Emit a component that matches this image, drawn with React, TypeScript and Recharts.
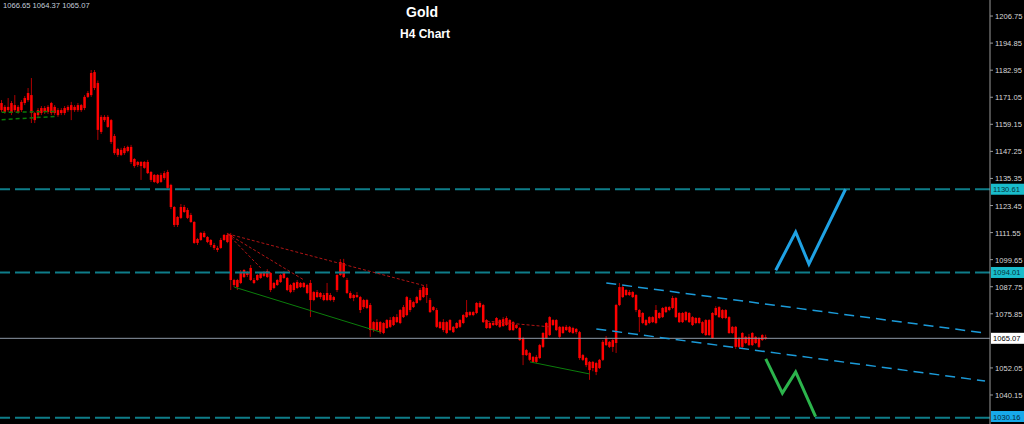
import React from "react";
import { ComposedChart, Bar, Line, XAxis, YAxis, ReferenceLine } from "recharts";

// H4 bars: open, high, low, close
const candles: number[][] = [
  [1168.5, 1169.8, 1164.6, 1165.4], [1166.8, 1167.6, 1163.8, 1164.6], [1165.4, 1170.7, 1164.6, 1166.8],
  [1164.1, 1169.4, 1163.2, 1168.5], [1167.6, 1172.0, 1164.6, 1165.4], [1166.8, 1167.6, 1163.8, 1164.6],
  [1165.4, 1169.8, 1164.6, 1169.0], [1168.5, 1171.6, 1167.6, 1170.7], [1169.8, 1175.1, 1169.0, 1172.9],
  [1172.0, 1179.5, 1159.7, 1164.1], [1164.1, 1164.6, 1159.7, 1161.0], [1163.2, 1166.3, 1162.4, 1165.4],
  [1164.1, 1167.2, 1163.2, 1166.3], [1166.3, 1167.2, 1163.7, 1164.6], [1164.6, 1167.6, 1163.7, 1166.8],
  [1164.1, 1169.0, 1163.2, 1168.5], [1166.8, 1167.6, 1163.2, 1164.1], [1165.4, 1166.3, 1162.4, 1163.2],
  [1164.1, 1166.3, 1163.2, 1165.4], [1164.1, 1167.2, 1163.2, 1166.3], [1165.4, 1167.6, 1164.6, 1166.8],
  [1167.6, 1169.0, 1161.0, 1165.4], [1165.4, 1167.6, 1164.6, 1166.8], [1165.4, 1168.5, 1164.6, 1167.6],
  [1167.6, 1168.1, 1164.6, 1165.4], [1166.3, 1172.0, 1165.4, 1171.2], [1171.2, 1173.8, 1170.7, 1172.9],
  [1172.0, 1183.0, 1171.2, 1181.7], [1182.1, 1183.0, 1174.2, 1175.1], [1177.3, 1178.4, 1152.3, 1156.7],
  // 30
  [1155.8, 1163.2, 1154.9, 1162.4], [1162.4, 1163.2, 1160.2, 1161.0], [1162.4, 1163.2, 1157.6, 1158.0],
  [1161.0, 1161.5, 1150.5, 1151.4], [1154.0, 1154.9, 1145.7, 1146.5], [1145.7, 1148.8, 1144.8, 1148.3],
  [1147.9, 1148.8, 1145.2, 1145.7], [1146.5, 1149.6, 1145.7, 1148.7], [1149.2, 1149.8, 1146.8, 1147.4],
  [1149.2, 1150.1, 1141.7, 1142.6], [1143.9, 1144.3, 1140.0, 1140.8], [1141.3, 1143.0, 1140.4, 1142.6],
  [1142.6, 1143.0, 1134.7, 1140.8], [1140.0, 1143.0, 1139.6, 1142.6], [1142.6, 1143.5, 1137.3, 1137.7],
  [1138.2, 1138.6, 1133.8, 1134.7], [1136.9, 1137.3, 1133.4, 1133.8], [1133.4, 1137.3, 1132.9, 1136.9],
  [1136.9, 1137.8, 1133.4, 1133.8], [1135.5, 1138.6, 1134.7, 1137.7], [1138.2, 1139.1, 1130.3, 1131.2],
  [1132.5, 1133.0, 1121.9, 1122.8], [1122.8, 1123.2, 1114.0, 1114.9], [1114.9, 1118.8, 1114.0, 1118.4],
  [1118.0, 1124.1, 1117.5, 1122.8], [1122.8, 1123.7, 1120.2, 1120.6], [1121.5, 1122.4, 1117.5, 1118.0],
  [1119.3, 1120.2, 1115.8, 1116.2], [1116.2, 1116.6, 1106.6, 1107.0], [1107.0, 1109.2, 1106.1, 1108.7],
  [1108.3, 1111.8, 1107.9, 1111.4], [1111.4, 1112.2, 1109.2, 1109.6], [1109.6, 1110.0, 1106.9, 1107.4],
  [1108.3, 1108.7, 1105.2, 1106.1], [1106.1, 1107.0, 1103.9, 1104.8], [1104.8, 1105.7, 1103.0, 1103.9],
  [1104.8, 1109.2, 1104.4, 1108.3], [1108.3, 1110.9, 1107.9, 1110.5], [1110.5, 1111.4, 1106.9, 1107.4],
  // 69
  [1110.5, 1111.4, 1086.3, 1090.7], [1090.7, 1091.2, 1087.6, 1088.5], [1087.6, 1091.2, 1086.3, 1090.7],
  [1089.4, 1095.1, 1088.9, 1094.2], [1095.1, 1095.5, 1091.6, 1092.0], [1092.9, 1094.6, 1092.0, 1094.2],
  [1096.0, 1097.3, 1090.3, 1090.7], [1090.7, 1091.6, 1088.9, 1089.4], [1090.7, 1093.3, 1090.3, 1092.9],
  [1093.8, 1094.2, 1091.2, 1091.6], [1092.5, 1094.6, 1092.0, 1094.2], [1094.6, 1095.5, 1091.6, 1092.0],
  [1093.8, 1094.2, 1085.4, 1086.3], [1087.2, 1089.8, 1086.7, 1089.4], [1088.5, 1091.2, 1088.1, 1090.7],
  [1089.8, 1093.3, 1089.4, 1092.9], [1091.6, 1094.6, 1091.2, 1093.8], [1091.6, 1092.0, 1085.8, 1086.3],
  [1088.5, 1089.0, 1084.9, 1085.4], [1086.3, 1089.8, 1085.4, 1089.4], [1089.8, 1090.7, 1086.7, 1087.2],
  [1087.6, 1089.8, 1087.2, 1089.4], [1089.4, 1089.8, 1087.2, 1087.6], [1088.5, 1089.0, 1084.5, 1085.0],
  [1089.4, 1090.7, 1074.4, 1081.9], [1081.9, 1085.8, 1081.4, 1085.4], [1085.4, 1086.3, 1082.8, 1083.2],
  [1083.2, 1085.4, 1082.4, 1085.0], [1084.1, 1085.0, 1081.4, 1081.9], [1081.9, 1089.4, 1081.4, 1085.0],
  [1084.1, 1085.0, 1081.4, 1081.9], [1081.9, 1083.7, 1081.0, 1083.2],
  // 101
  [1086.3, 1093.3, 1085.4, 1092.9], [1092.9, 1099.9, 1092.5, 1098.6], [1098.2, 1100.0, 1091.6, 1092.0],
  [1090.7, 1091.6, 1084.5, 1085.0], [1085.0, 1085.8, 1082.4, 1082.8], [1082.8, 1084.5, 1081.4, 1084.1],
  [1084.1, 1085.4, 1082.8, 1083.2], [1083.2, 1083.7, 1076.2, 1077.5], [1078.8, 1082.4, 1078.0, 1081.9],
  [1081.9, 1082.4, 1077.9, 1078.4], [1079.7, 1080.6, 1065.7, 1068.7], [1068.7, 1072.6, 1067.8, 1072.2],
  [1072.2, 1073.5, 1068.3, 1068.7], [1067.8, 1072.6, 1067.0, 1072.2], [1071.8, 1072.2, 1066.9, 1067.4],
  [1069.6, 1073.5, 1069.2, 1073.1], [1073.1, 1074.4, 1069.6, 1070.1], [1070.9, 1074.8, 1070.5, 1074.4],
  [1074.4, 1075.7, 1071.8, 1072.2], [1071.8, 1077.9, 1071.3, 1077.5], [1078.8, 1079.7, 1074.0, 1074.4],
  [1075.3, 1083.7, 1074.8, 1083.2], [1081.9, 1082.8, 1076.6, 1077.5], [1078.8, 1081.4, 1078.4, 1081.0],
  [1080.6, 1083.7, 1080.2, 1083.2], [1081.9, 1087.2, 1081.4, 1086.3], [1083.2, 1088.5, 1082.8, 1087.6],
  [1087.2, 1088.9, 1080.6, 1084.1], [1081.9, 1082.8, 1076.2, 1076.6], [1077.5, 1079.2, 1077.0, 1078.8],
  // 131
  [1077.5, 1078.4, 1069.6, 1070.1], [1069.6, 1072.6, 1069.2, 1072.2], [1072.2, 1073.5, 1067.8, 1068.7],
  [1067.4, 1072.6, 1066.9, 1072.2], [1073.1, 1073.5, 1068.3, 1068.7], [1070.1, 1070.5, 1067.4, 1067.8],
  [1069.6, 1072.2, 1069.2, 1071.8], [1070.1, 1073.5, 1069.6, 1073.1], [1071.8, 1075.7, 1071.3, 1075.3],
  [1074.4, 1081.9, 1074.0, 1076.6], [1076.6, 1077.0, 1074.8, 1075.3], [1075.3, 1077.0, 1074.8, 1076.6],
  [1076.2, 1081.0, 1075.7, 1080.6], [1080.6, 1081.4, 1078.4, 1078.8], [1079.7, 1080.2, 1071.8, 1072.2],
  [1073.1, 1073.5, 1069.2, 1069.6], [1069.6, 1072.2, 1069.2, 1071.8], [1071.8, 1072.6, 1070.5, 1070.9],
  [1070.9, 1074.4, 1070.5, 1074.0], [1073.1, 1073.5, 1069.6, 1070.1], [1070.5, 1074.4, 1070.1, 1073.5],
  [1074.0, 1074.8, 1070.5, 1070.9], [1068.7, 1073.5, 1068.3, 1073.1], [1072.2, 1072.6, 1068.3, 1068.7],
  [1069.6, 1071.3, 1069.2, 1070.9], [1069.6, 1070.1, 1063.9, 1064.3], [1065.2, 1065.7, 1053.3, 1057.7],
  [1057.7, 1060.4, 1057.3, 1059.9], [1058.6, 1059.1, 1055.1, 1055.6], [1054.7, 1057.3, 1054.2, 1056.9],
  // 161
  [1056.9, 1057.7, 1054.2, 1054.7], [1056.4, 1062.6, 1056.0, 1062.1], [1061.3, 1067.8, 1060.8, 1067.4],
  [1065.2, 1072.2, 1064.8, 1071.8], [1066.5, 1074.8, 1066.1, 1074.4], [1073.1, 1073.5, 1070.5, 1070.9],
  [1068.7, 1073.5, 1068.3, 1073.1], [1070.1, 1070.5, 1065.2, 1065.7], [1067.4, 1070.5, 1067.0, 1070.1],
  [1070.1, 1070.9, 1068.3, 1068.7], [1067.8, 1070.5, 1067.4, 1070.1], [1069.6, 1070.1, 1067.0, 1067.4],
  [1067.8, 1069.6, 1066.9, 1069.2], [1067.8, 1068.3, 1055.6, 1056.4], [1057.7, 1058.2, 1055.1, 1055.6],
  [1056.4, 1056.9, 1052.4, 1053.3], [1054.7, 1055.1, 1046.8, 1051.1], [1052.0, 1055.1, 1050.6, 1054.7],
  [1054.2, 1054.7, 1048.9, 1050.3], [1052.0, 1056.0, 1051.6, 1055.6], [1055.6, 1064.3, 1055.1, 1063.5],
  [1062.1, 1066.1, 1061.7, 1065.2], [1063.5, 1063.9, 1060.8, 1061.3], [1061.3, 1064.8, 1059.1, 1064.3],
  [1063.0, 1080.2, 1058.6, 1079.7], [1079.7, 1089.4, 1079.2, 1087.6], [1087.6, 1088.1, 1082.8, 1083.2],
  [1084.1, 1086.7, 1083.7, 1086.3], [1085.4, 1086.3, 1083.7, 1084.1], [1083.2, 1085.8, 1082.8, 1085.4],
  // 191
  [1084.1, 1084.5, 1076.6, 1077.5], [1077.5, 1077.9, 1067.8, 1074.4], [1076.2, 1076.6, 1071.3, 1071.8],
  [1070.9, 1073.5, 1070.5, 1073.1], [1071.8, 1074.8, 1071.3, 1074.4], [1074.4, 1074.8, 1071.8, 1072.2],
  [1071.8, 1079.7, 1071.3, 1077.5], [1076.2, 1076.6, 1073.5, 1074.0], [1074.4, 1078.8, 1074.0, 1078.4],
  [1078.8, 1079.2, 1076.2, 1076.6], [1077.5, 1079.2, 1077.0, 1078.8], [1078.4, 1083.7, 1077.9, 1082.8],
  [1082.8, 1083.2, 1074.0, 1074.4], [1076.2, 1076.6, 1071.8, 1072.2], [1072.2, 1076.6, 1071.8, 1076.2],
  [1076.6, 1077.0, 1072.6, 1073.1], [1072.2, 1076.6, 1071.8, 1076.2], [1074.4, 1074.8, 1070.5, 1070.9],
  [1071.8, 1074.4, 1071.3, 1074.0], [1074.0, 1074.4, 1071.3, 1071.8], [1072.2, 1072.6, 1067.0, 1067.4],
  [1066.5, 1073.5, 1066.1, 1073.1], [1073.1, 1073.5, 1066.1, 1066.5], [1065.2, 1076.6, 1064.8, 1076.2],
  [1075.3, 1079.2, 1075.0, 1078.4], [1078.8, 1079.2, 1074.0, 1074.4], [1074.0, 1077.9, 1073.5, 1077.5],
  [1077.5, 1077.9, 1073.5, 1074.0], [1074.4, 1074.8, 1067.0, 1067.4], [1067.4, 1070.5, 1067.0, 1070.1],
  // 221
  [1070.1, 1070.5, 1060.4, 1061.3], [1061.3, 1065.7, 1060.8, 1065.2], [1067.4, 1067.8, 1060.8, 1061.3],
  [1063.0, 1066.1, 1062.6, 1065.7], [1065.7, 1067.0, 1061.7, 1062.1], [1062.1, 1067.8, 1061.7, 1067.4],
  [1065.7, 1066.1, 1062.6, 1063.0], [1065.2, 1065.7, 1060.8, 1061.3], [1064.3, 1066.9, 1063.9, 1066.5],
];

// current (unfinished) bar
const lastHigh = 1066.65;
const lastLow = 1064.37;
const lastClose = 1065.07;
const lastOpen = 1065.6;

// bars visible in the window, including the empty shift area on the right
const SLOTS = 298;

const priceTicks = [
  1206.75, 1194.85, 1182.95, 1171.05, 1159.15, 1147.25, 1135.35, 1123.45,
  1111.55, 1099.65, 1087.75, 1075.85, 1052.05, 1040.15,
];
const priceMin = 1027.4;
const priceMax = 1213.8;

const resistanceLevels = [1130.61, 1094.01];
const supportLevel = 1030.16;

// trend lines as [bar index, price] pairs
const fanLines = [
  [[68, 1111.0], [127, 1088.3]],
  [[68, 1111.0], [78, 1096.0]],
  [[68, 1111.0], [91, 1090.7]],
  [[146, 1072.6], [165, 1070.1]],
];
const supportLines = [
  [[70, 1087.6], [114, 1067.8]],
  [[159, 1054.7], [177, 1049.4]],
];
const oldLines = [
  [[0, 1164.4], [16, 1164.8]],
  [[0, 1161.2], [16, 1162.6]],
];
const channel = [
  [[182, 1089.4], [296, 1067.4]],
  [[179, 1069.2], [296, 1046.3]],
];

// projected paths
const bullPath = [[233, 1095.0], [239, 1111.8], [243, 1097.7], [254, 1130.6]];
const bearPath = [[230, 1056.0], [235, 1041.0], [239, 1050.3], [245, 1030.6]];

const allBars = [...candles, [lastOpen, lastHigh, lastLow, lastClose]];

const rows: any[] = Array.from({ length: SLOTS }, (_, i) => {
  const row: any = { i };
  const b = allBars[i];
  if (b) {
    row.o = b[0];
    row.h = b[1];
    row.l = b[2];
    row.c = b[3];
    row.range = [b[2], b[1]];
  }
  return row;
});
bullPath.forEach(([i, p]) => (rows[i].bull = p));
bearPath.forEach(([i, p]) => (rows[i].bear = p));

const AXIS_FONT = "'Liberation Sans', Arial, sans-serif";

const Candle = (props: any) => {
  const { x, y, width, height, payload } = props;
  if (!payload || payload.o == null) return null;
  const top = Math.min(y, y + height);
  const bottom = Math.max(y, y + height);
  const span = payload.h - payload.l;
  const toY = (v: number) => (span > 0 ? top + ((payload.h - v) / span) * (bottom - top) : top);
  const cx = x + width / 2;
  const yo = toY(payload.o);
  const yc = toY(payload.c);
  const bt = Math.min(yo, yc);
  const bh = Math.max(1, Math.abs(yo - yc));
  return (
    <g>
      <line x1={cx} x2={cx} y1={top} y2={bottom} stroke="#b00000" strokeWidth={1} />
      <rect x={cx - 1.25} y={bt} width={2.5} height={bh} fill="#ff0000" />
    </g>
  );
};

const AxisTick = (props: any) => {
  const { x, y, payload } = props;
  return (
    <text x={x} y={y + 3} fill="#d8d8d8" fontSize={7.6} fontFamily={AXIS_FONT}>
      {Number(payload.value).toFixed(2)}
    </text>
  );
};

const PriceTag = (props: any) => {
  const { viewBox, price, bg, fg } = props;
  if (!viewBox) return null;
  const bx = viewBox.x + viewBox.width;
  const by = Math.min(viewBox.y - 5.5, 424 - 13);
  return (
    <g>
      <rect x={bx + 1} y={by} width={33} height={11} fill={bg} />
      <text x={bx + 3} y={by + 8.5} fontSize={7.6} fill={fg} fontFamily={AXIS_FONT}>
        {price.toFixed(2)}
      </text>
    </g>
  );
};

const seg = (pts: number[][]) => pts.map(([x, y]) => ({ x, y }));

const App = () => {
  return (
    <div
      style={{
        position: "absolute",
        left: 0,
        top: 0,
        width: 1024,
        height: 424,
        background: "#000",
        overflow: "hidden",
      }}
    >
      <ComposedChart
        width={1024}
        height={424}
        data={rows}
        margin={{ top: 0, right: 0, left: 0, bottom: 0 }}
        barCategoryGap={0}
      >
        <XAxis dataKey="i" type="category" hide />
        <YAxis
          orientation="right"
          type="number"
          domain={[priceMin, priceMax]}
          allowDataOverflow
          ticks={priceTicks}
          interval={0}
          width={34}
          tickSize={3}
          tickMargin={2}
          axisLine={{ stroke: "#9a9a9a" }}
          tickLine={{ stroke: "#9a9a9a" }}
          tick={<AxisTick />}
        />

        {oldLines.map((l, k) => (
          <ReferenceLine key={"o" + k} segment={seg(l)} stroke="#0a7a0a" strokeDasharray="4 3" strokeWidth={1.5} />
        ))}

        <Bar dataKey="range" shape={<Candle />} isAnimationActive={false} />

        {resistanceLevels.map((p) => (
          <ReferenceLine
            key={p}
            y={p}
            stroke="#0e7d89"
            strokeWidth={2}
            strokeDasharray="15 5"
            label={<PriceTag price={p} bg="#19bccb" fg="#06323a" />}
          />
        ))}
        <ReferenceLine
          y={supportLevel}
          stroke="#0e7d89"
          strokeWidth={2}
          strokeDasharray="15 5"
          label={<PriceTag price={supportLevel} bg="#17a9ea" fg="#062a3a" />}
        />
        <ReferenceLine
          y={lastClose}
          stroke="#8d99a6"
          strokeWidth={1}
          label={<PriceTag price={lastClose} bg="#ffffff" fg="#000000" />}
        />

        {fanLines.map((l, k) => (
          <ReferenceLine key={"f" + k} segment={seg(l)} stroke="#b01515" strokeDasharray="3 2" strokeWidth={1} />
        ))}
        {supportLines.map((l, k) => (
          <ReferenceLine key={"s" + k} segment={seg(l)} stroke="#0b7d0b" strokeWidth={1} />
        ))}
        {channel.map((l, k) => (
          <ReferenceLine key={"c" + k} segment={seg(l)} stroke="#1b9bd9" strokeDasharray="10 6" strokeWidth={1.5} />
        ))}

        <Line
          dataKey="bull"
          type="linear"
          stroke="#1fa2e4"
          strokeWidth={3}
          dot={false}
          connectNulls
          isAnimationActive={false}
        />
        <Line
          dataKey="bear"
          type="linear"
          stroke="#2cb44c"
          strokeWidth={3}
          dot={false}
          connectNulls
          isAnimationActive={false}
        />
      </ComposedChart>

      <svg width={200} height={12} style={{ position: "absolute", left: 0, top: 0 }}>
        <text x={3} y={7.5} fill="#c4cedb" fontSize={7.6} fontFamily={AXIS_FONT}>
          {lastHigh.toFixed(2)} {lastLow.toFixed(2)} {lastClose.toFixed(2)}
        </text>
      </svg>
      <div
        style={{
          position: "absolute",
          left: 322,
          width: 200,
          top: 5,
          textAlign: "center",
          fontFamily: "'Liberation Sans', Arial, sans-serif",
          fontWeight: "bold",
          fontSize: 14,
          lineHeight: "14px",
          color: "#ffffff",
        }}
      >
        Gold
      </div>
      <div
        style={{
          position: "absolute",
          left: 325,
          width: 200,
          top: 28,
          textAlign: "center",
          fontFamily: "'Liberation Sans', Arial, sans-serif",
          fontWeight: "bold",
          fontSize: 12,
          lineHeight: "12px",
          color: "#ffffff",
        }}
      >
        H4 Chart
      </div>
    </div>
  );
};

export default App;
